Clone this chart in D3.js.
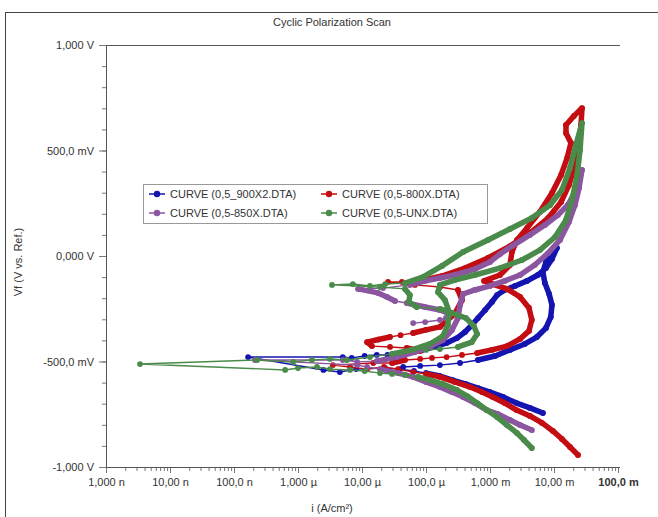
<!DOCTYPE html>
<html>
<head>
<meta charset="utf-8">
<script src="https://cdn.jsdelivr.net/npm/d3@7"></script>
<style>
body { margin: 0; background: #fff; }
text { font-family: "Liberation Sans", Arial, sans-serif; fill: #333; }
</style>
</head>
<body>
<div id="plotDiv"></div>
<script>
// --- data: [current A/cm², potential V] in scan order ---
const seriesNames = ["CURVE (0,5_900X2.DTA)", "CURVE (0,5-800X.DTA)", "CURVE (0,5-850X.DTA)", "CURVE (0,5-UNX.DTA)"];
const seriesColors = ["#1414b0", "#c30d12", "#8b55a0", "#4a8a4a"];

const blue = [[6.7e-3,-0.744],[4.2e-3,-0.720],[2.6e-3,-0.697],[1.6e-3,-0.668],[1.0e-3,-0.645],[6.5e-4,-0.626],[4.2e-4,-0.607],[2.6e-4,-0.588],[1.65e-4,-0.569],[1.0e-4,-0.555],[6.5e-5,-0.545],[3.9e-5,-0.536],[2.3e-5,-0.531],[8.1e-6,-0.536],[4.5e-6,-0.550],[2.5e-6,-0.540],[1.66e-7,-0.479],[5.0e-6,-0.479],[6.9e-6,-0.483],[1.1e-5,-0.474],[1.7e-5,-0.469],[2.5e-5,-0.469],[3.9e-5,-0.460],[5.6e-5,-0.455],[8.7e-5,-0.445],[1.38e-4,-0.431],[2.1e-4,-0.412],[3.05e-4,-0.389],[4.07e-4,-0.360],[5.2e-4,-0.327],[6.5e-4,-0.294],[8.4e-4,-0.256],[1.07e-3,-0.218],[1.29e-3,-0.185],[1.7e-3,-0.161],[2.46e-3,-0.142],[3.79e-3,-0.118],[5.6e-3,-0.090],[7.5e-3,-0.057],[9.3e-3,-0.014],[1.11e-2,0.038],
  [9.3e-3,0.009],[7.5e-3,-0.028],[6.7e-3,-0.076],[7.2e-3,-0.128],[8.4e-3,-0.180],[9.3e-3,-0.232],[8.9e-3,-0.289],[7.5e-3,-0.341],[5.4e-3,-0.384],[3.5e-3,-0.417],[2.05e-3,-0.445],[1.2e-3,-0.474],[6.5e-4,-0.493],[3.4e-4,-0.507],[1.65e-4,-0.517],[8.1e-5,-0.521],[4.4e-5,-0.526]];

const red = [[2.37e-2,-0.943],[1.78e-2,-0.905],[1.33e-2,-0.867],[9.6e-3,-0.829],[6.5e-3,-0.791],[4.2e-3,-0.758],[2.6e-3,-0.730],[1.7e-3,-0.697],[1.1e-3,-0.668],[7.5e-4,-0.645],[4.9e-4,-0.621],[2.8e-4,-0.597],[1.65e-4,-0.573],[1.0e-4,-0.559],[6.3e-5,-0.550],[3.65e-5,-0.536],[2.2e-5,-0.526],[1.2e-5,-0.536],[6.5e-6,-0.526],[3.5e-6,-0.517],
  [1.5e-5,-0.507],[2.95e-5,-0.507],[4.7e-5,-0.493],[8.1e-5,-0.488],[1.24e-4,-0.483],[2.1e-4,-0.479],[3.65e-4,-0.469],[6.3e-4,-0.460],[1.07e-3,-0.445],[1.84e-3,-0.427],[2.95e-3,-0.393],[4.07e-3,-0.355],[4.5e-3,-0.303],[4.07e-3,-0.246],[2.95e-3,-0.194],[1.84e-3,-0.156],[1.1e-3,-0.133],[8.1e-4,-0.118],[1.43e-3,-0.090],[2.05e-3,-0.043],[2.2e-3,0.019],[2.64e-3,0.076],[3.79e-3,0.133],[6.0e-3,0.209],[9.3e-3,0.299],[1.29e-2,0.384],[1.6e-2,0.464],[1.84e-2,0.536],[1.54e-2,0.583],[1.54e-2,0.621],[2.05e-2,0.664],[2.74e-2,0.701],
  [2.64e-2,0.621],[2.46e-2,0.526],[2.13e-2,0.431],[1.71e-2,0.336],[1.29e-2,0.256],[8.1e-3,0.180],[4.2e-3,0.109],[2.05e-3,0.047],[9.3e-4,-0.009],[4.07e-4,-0.057],[1.78e-4,-0.095],[8.1e-5,-0.118],[4.2e-5,-0.123],[2.55e-5,-0.123],[6.7e-5,-0.137],[1.65e-4,-0.147],[3.16e-4,-0.161],[3.65e-4,-0.209],[2.8e-4,-0.275],[1.65e-4,-0.336],[1.0e-4,-0.350],[6.3e-5,-0.365],[4.0e-5,-0.375],[2.74e-5,-0.384],[1.8e-5,-0.396],[1.2e-5,-0.408],[1.43e-5,-0.427],[2.74e-5,-0.431],[5.0e-5,-0.436],[8.1e-5,-0.450]];

const purple = [[4.5e-3,-0.825],[2.95e-3,-0.801],[2.05e-3,-0.777],[1.33e-3,-0.749],[8.9e-4,-0.730],[5.8e-4,-0.697],[3.8e-4,-0.668],[2.55e-4,-0.645],[1.65e-4,-0.621],[1.0e-4,-0.597],[6.3e-5,-0.573],[3.65e-5,-0.555],[1.91e-5,-0.536],[1.2e-5,-0.526],[8.4e-6,-0.517],[2.13e-7,-0.493],
  [5.0e-6,-0.493],[8.4e-6,-0.502],[1.71e-5,-0.498],[3.5e-5,-0.479],[6.7e-5,-0.455],[1.15e-4,-0.431],[1.84e-4,-0.398],[2.55e-4,-0.351],[3.16e-4,-0.294],[3.4e-4,-0.232],[3.8e-4,-0.180],[5.8e-4,-0.161],[1.0e-3,-0.142],[1.7e-3,-0.118],[2.95e-3,-0.090],[5.0e-3,-0.043],[8.1e-3,0.014],[1.24e-2,0.076],[1.71e-2,0.161],[2.13e-2,0.242],[2.46e-2,0.322],[2.74e-2,0.408],
  [2.2e-2,0.313],[1.65e-2,0.242],[1.15e-2,0.194],[7.2e-3,0.147],[4.2e-3,0.100],[2.2e-3,0.047],[1.43e-3,0.009],[1.0e-3,-0.028],[5.8e-4,-0.062],[2.8e-4,-0.090],[1.65e-4,-0.104],[9.7e-5,-0.118],[5.6e-5,-0.137],[2.13e-5,-0.152],[8.7e-6,-0.156],[1.78e-5,-0.175],[2.46e-5,-0.194],[3.28e-5,-0.213],[5.0e-5,-0.223],[9.7e-5,-0.242],[1.65e-4,-0.256],[2.37e-4,-0.275],[2.05e-4,-0.294],[1.65e-4,-0.303],[9.7e-5,-0.313],[6.3e-5,-0.318]];

const green = [[4.5e-3,-0.910],[3.4e-3,-0.872],[2.64e-3,-0.839],[1.84e-3,-0.801],[1.29e-3,-0.763],[8.9e-4,-0.730],[6.3e-4,-0.697],[4.4e-4,-0.664],[3.05e-4,-0.635],[1.84e-4,-0.607],[1.15e-4,-0.588],[7.5e-5,-0.573],[4.7e-5,-0.564],[2.95e-5,-0.559],[1.91e-5,-0.555],[1.1e-5,-0.545],[6.5e-6,-0.540],[3.16e-6,-0.536],[1.98e-6,-0.526],[1.0e-6,-0.531],[6.3e-7,-0.540],[3.4e-9,-0.512],
  [2.3e-7,-0.493],[8.4e-7,-0.502],[1.65e-6,-0.493],[3.16e-6,-0.488],[5.8e-6,-0.493],[1.33e-5,-0.479],[2.95e-5,-0.464],[6.0e-5,-0.445],[1.15e-4,-0.417],[1.84e-4,-0.379],[2.2e-4,-0.327],[2.3e-4,-0.265],[1.98e-4,-0.209],[1.54e-4,-0.171],[1.65e-4,-0.137],[2.8e-4,-0.114],[5.8e-4,-0.090],[1.43e-3,-0.057],[3.16e-3,-0.019],[6.0e-3,0.028],[1.04e-2,0.090],[1.54e-2,0.171],[1.91e-2,0.265],[2.3e-2,0.384],[2.55e-2,0.502],[2.74e-2,0.630],
  [2.2e-2,0.526],[1.78e-2,0.417],[1.33e-2,0.313],[8.7e-3,0.242],[4.5e-3,0.180],[2.05e-3,0.128],[9.3e-4,0.076],[3.8e-4,0.019],[1.78e-4,-0.047],[8.9e-5,-0.100],[4.7e-5,-0.128],[2.3e-5,-0.133],[1.33e-5,-0.142],[7.2e-6,-0.133],[3.4e-6,-0.137],[1.91e-5,-0.147],[4.7e-5,-0.156],[5.6e-5,-0.185],[5.4e-5,-0.218],[7.2e-5,-0.242],[1.65e-4,-0.251],[2.55e-4,-0.270],[4.2e-4,-0.294],[5.6e-4,-0.332],[6.3e-4,-0.370],[5.2e-4,-0.408],[3.16e-4,-0.431],[1.65e-4,-0.441],[1.0e-4,-0.445]];

const allSeries = [blue, red, purple, green];

// --- ticks ---
const xTickValues = [1e-9, 1e-8, 1e-7, 1e-6, 1e-5, 1e-4, 1e-3, 1e-2, 1e-1];
const xTickLabels = ["1,000 n", "10,00 n", "100,0 n", "1,000 µ", "10,00 µ", "100,0 µ", "1,000 m", "10,00 m", "100,0 m"];
const yTickValues = [-1, -0.5, 0, 0.5, 1];
const yTickLabels = ["-1,000 V", "-500,0 mV", "0,000 V", "500,0 mV", "1,000 V"];

const W = 658, H = 517;
const plot = {left: 106, right: 618, top: 45, bottom: 467};

const svg = d3.select("#plotDiv").append("svg")
    .attr("width", W)
    .attr("height", H);

// outer frame
svg.append("rect")
    .attr("x", 5.5).attr("y", 12.5)
    .attr("width", 700).attr("height", 600)
    .attr("fill", "none").attr("stroke", "#444").attr("stroke-width", 1);

// scales
const xScale = d3.scaleLog().domain([1e-9, 1e-1]).range([plot.left, plot.right]);
const yScale = d3.scaleLinear().domain([-1, 1]).range([plot.bottom, plot.top]);

// minor tick positions
const xMinor = [];
xTickValues.slice(0, -1).forEach(d => { for (let k = 2; k <= 9; k++) xMinor.push(k * d); });
const yMinor = d3.range(-10, 11).map(k => k / 10);

// x axis
const gx = svg.append("g").attr("transform", `translate(0,${plot.bottom})`);
gx.append("g").call(d3.axisBottom(xScale).tickValues(xMinor).tickSize(4).tickFormat(""));
gx.append("g").call(d3.axisBottom(xScale).tickValues(xTickValues).tickSize(6)
    .tickFormat((d, i) => xTickLabels[i]).tickPadding(5));
gx.selectAll(".domain").remove();
gx.selectAll("line").attr("stroke", "#777");
gx.selectAll("text").style("font-size", "11px").attr("fill", "#333")
    .style("font-weight", d => d === 1e-1 ? "bold" : "normal");

// y axis
const gy = svg.append("g").attr("transform", `translate(${plot.left},0)`);
gy.append("g").call(d3.axisLeft(yScale).tickValues(yMinor).tickSize(4).tickFormat(""));
gy.append("g").call(d3.axisLeft(yScale).tickValues(yTickValues).tickSize(7)
    .tickFormat((d, i) => yTickLabels[i]).tickPadding(5));
gy.selectAll(".domain").remove();
gy.selectAll("line").attr("stroke", "#777");
gy.selectAll("text").style("font-size", "11px").attr("fill", "#333");

// axis lines (left, bottom, top)
svg.append("path")
    .attr("d", `M${plot.left + 0.5},${plot.top + 0.5}V${plot.bottom + 0.5}H620 M${plot.left},${plot.top + 0.5}H620`)
    .attr("fill", "none").attr("stroke", "#555").attr("stroke-width", 1);

// --- curves ---
const curves = svg.append("g");
allSeries.forEach((series, s) => {
    const color = seriesColors[s];
    const pts = series.map(d => [xScale(d[0]), yScale(d[1])]);
    const g = curves.append("g");

    // thin connecting line
    g.append("path")
        .attr("d", d3.line()(pts))
        .attr("fill", "none").attr("stroke", color).attr("stroke-width", 1.4)
        .attr("stroke-linejoin", "round");

    // where the potential moves steadily the measured points sit close together,
    // so those stretches look like a thick line; flat jumps near Ecorr stay thin
    const thick = d3.path();
    for (let i = 1; i < pts.length; i++) {
        const dx = pts[i][0] - pts[i - 1][0], dy = pts[i][1] - pts[i - 1][1];
        if (Math.abs(dy) >= 2.5 && Math.abs(dx) < 5 * Math.abs(dy)) {
            thick.moveTo(pts[i - 1][0], pts[i - 1][1]);
            thick.lineTo(pts[i][0], pts[i][1]);
        }
    }
    g.append("path")
        .attr("d", thick.toString())
        .attr("fill", "none").attr("stroke", color).attr("stroke-width", 5.5)
        .attr("stroke-linecap", "round");

    g.selectAll("circle")
        .data(series)
        .enter()
        .append("circle")
        .attr("cx", d => xScale(d[0]))
        .attr("cy", d => yScale(d[1]))
        .attr("r", 2.9)
        .attr("fill", color);
});

// --- legend ---
const legend = svg.append("g");
legend.append("rect")
    .attr("x", 143.5).attr("y", 184.5).attr("width", 344).attr("height", 39)
    .attr("fill", "#fff").attr("stroke", "#999");
const legendPos = [[157, 194], [329, 194], [157, 213], [329, 213]];
seriesNames.forEach((name, i) => {
    const [lx, ly] = legendPos[i];
    legend.append("line")
        .attr("x1", lx - 8).attr("x2", lx + 8).attr("y1", ly).attr("y2", ly)
        .attr("stroke", seriesColors[i]).attr("stroke-width", 1.5);
    legend.append("circle").attr("cx", lx).attr("cy", ly).attr("r", 3.2).attr("fill", seriesColors[i]);
    legend.append("text")
        .attr("x", lx + 13).attr("y", ly + 4)
        .style("font-size", "11px")
        .text(name);
});

// --- titles ---
svg.append("text")
    .attr("x", 332).attr("y", 26)
    .attr("text-anchor", "middle")
    .style("font-size", "11px")
    .text("Cyclic Polarization Scan");

svg.append("text")
    .attr("x", 332).attr("y", 512)
    .attr("text-anchor", "middle")
    .style("font-size", "11px")
    .text("i (A/cm²)");

svg.append("text")
    .attr("transform", "translate(22,262) rotate(-90)")
    .attr("text-anchor", "middle")
    .style("font-size", "11px")
    .text("Vf (V vs. Ref.)");
</script>
</body>
</html>
